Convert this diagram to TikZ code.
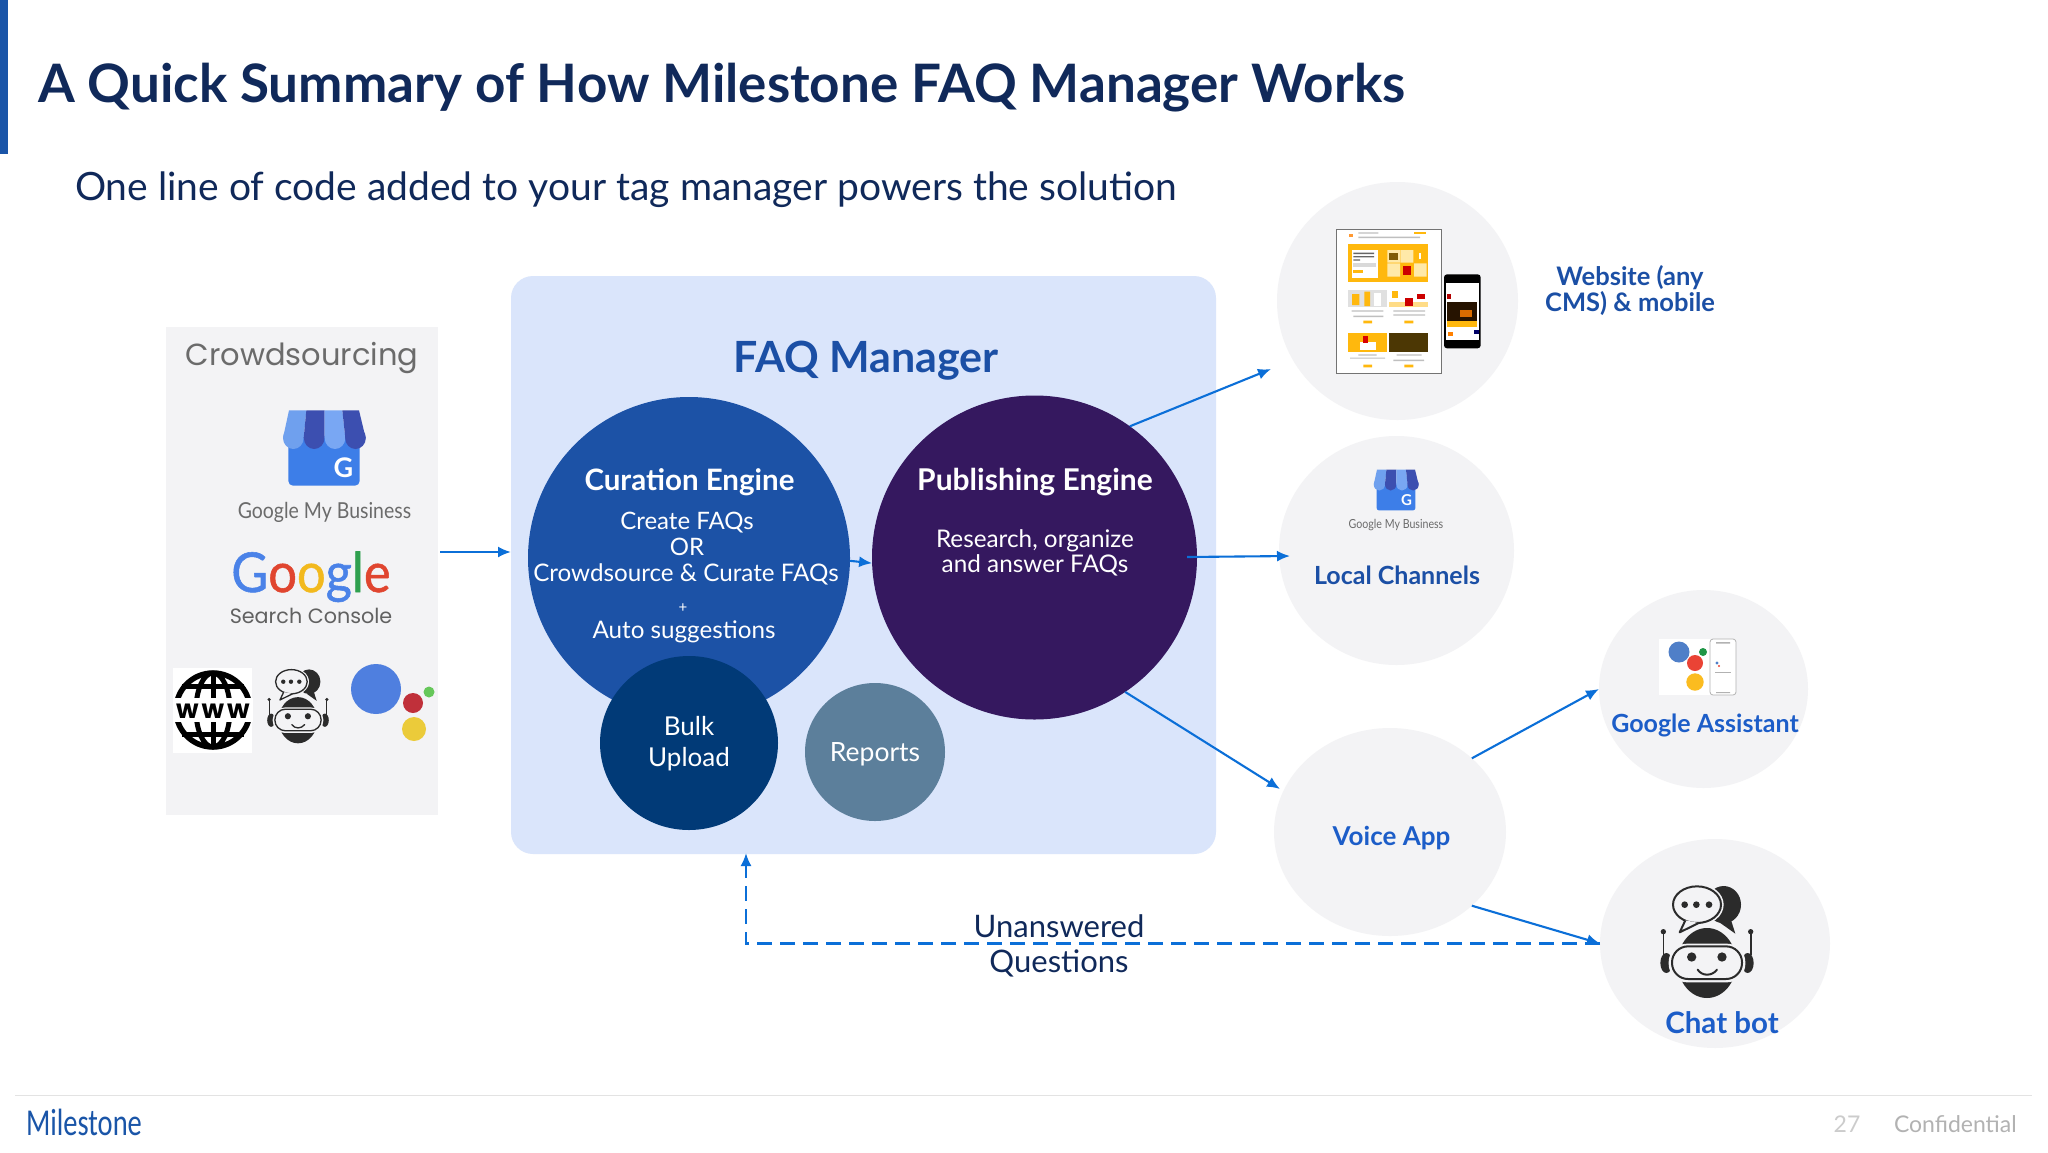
\documentclass[tikz,border=0pt]{standalone}
\usepackage{fontspec}
\usepackage{graphicx}
\setmainfont{Lato}
\newfontfamily\popp{Poppins}
\newfontfamily\carl{Carlito}
\newfontfamily\logofont[FakeBold=1]{Lato}
\usetikzlibrary{arrows.meta,shapes.geometric}
\definecolor{arrowblue}{HTML}{0B6FD8}
\definecolor{navy}{HTML}{10295A}
\definecolor{bar}{HTML}{1A55A8}
\definecolor{dkblue}{HTML}{1B4FA5}
\definecolor{midblue}{HTML}{1C5DC8}
\definecolor{panelgrey}{HTML}{F3F3F5}
\definecolor{faqpanel}{HTML}{DAE5FB}
\definecolor{curation}{HTML}{1C52A6}
\definecolor{publish}{HTML}{35185F}
\definecolor{bulkc}{HTML}{013A77}
\definecolor{reportsc}{HTML}{5C7F9B}
\definecolor{dark}{HTML}{2B2B2B}
\definecolor{yel}{HTML}{FFB80D}
\definecolor{palegy}{HTML}{FFE9A8}
\newcommand\fs[2]{\fontsize{#1}{#2}\selectfont}
\tikzset{
  x=1pt,y=-1pt,
  lbl/.style={anchor=base,inner sep=0pt,outer sep=0pt,align=center},
  bub/.style={shape=ellipse,fill=panelgrey,draw=none,inner sep=0pt,outer sep=0pt},
  eng/.style={shape=ellipse,draw=none,inner sep=0pt,outer sep=0pt},
  arr/.style={draw=arrowblue,line width=2.1pt,-{Latex[length=13pt,width=11pt]}},
  dsh/.style={draw=arrowblue,line width=2.1pt,dash pattern=on 15pt off 8pt,-{Latex[length=13pt,width=11pt]}},
}
% GMB store icon: args x, y, scale, name, G font size
\newcommand\gmbicon[5]{%
  \begin{scope}[shift={(#1,#2)},scale=#3]
  \begin{scope}[shift={(-523,-385)}]
    \fill[color={rgb,255:red,61;green,126;blue,232},rounded corners=#3*14pt] (416,350) rectangle (630,498);
    \fill[color={rgb,255:red,111;green,160;blue,238}] (418,272) -- (470,272) -- (462,355) -- (400,355) -- cycle;
    \fill[color={rgb,255:red,111;green,160;blue,238}] (431,355) ellipse [x radius=31,y radius=33];
    \fill[color={rgb,255:red,60;green,79;blue,176}] (470,272) -- (525,272) -- (525,355) -- (462,355) -- cycle;
    \fill[color={rgb,255:red,60;green,79;blue,176}] (493.5,355) ellipse [x radius=31,y radius=33];
    \fill[color={rgb,255:red,121;green,167;blue,243}] (525,272) -- (578,272) -- (587,355) -- (525,355) -- cycle;
    \fill[color={rgb,255:red,121;green,167;blue,243}] (556,355) ellipse [x radius=31,y radius=33];
    \fill[color={rgb,255:red,60;green,79;blue,176}] (578,272) -- (628,272) -- (648,355) -- (587,355) -- cycle;
    \fill[color={rgb,255:red,60;green,79;blue,176}] (617.5,355) ellipse [x radius=31,y radius=33];
    \node[lbl,text=white] (#4) at (581,472) {\fontsize{#5}{#5}\selectfont\bfseries G};
  \end{scope}
  \end{scope}}
% Robot icon: args x, y, scale, background colour
\newcommand\roboticon[4]{%
  \begin{scope}[shift={(#1,#2)},scale=#3]
  \begin{scope}[shift={(-860,-1090)}]
    \fill[dark] (910,975) ellipse [x radius=52,y radius=56];
    \fill[dark] (930,1015) -- (945,1062) -- (900,1030) -- cycle;
    \fill[#4] (830,975) ellipse [x radius=80,y radius=63];
    \fill[dark] (860,1150) ellipse [x radius=88,y radius=105];
    \filldraw[fill=#4,draw=dark,line width=#3*6pt] (830,975) ellipse [x radius=72,y radius=55];
    \filldraw[fill=#4,draw=dark,line width=#3*6pt,line join=round] (795,1022) -- (778,1058) -- (835,1030);
    \fill[dark] (793,975) circle [radius=10] (828,975) circle [radius=10] (866,975) circle [radius=10];
    \fill[dark] (738,1150) ellipse [x radius=18,y radius=30];
    \fill[dark] (982,1150) ellipse [x radius=18,y radius=30];
    \draw[dark,line width=#3*5pt] (729,1125) -- (729,1058) (991,1125) -- (991,1058);
    \fill[dark] (729,1056) circle [radius=8] (991,1056) circle [radius=8];
    \fill[#4,rounded corners=#3*55pt] (745,1092) rectangle (975,1208);
    \filldraw[fill=#4,draw=dark,line width=#3*6pt,rounded corners=#3*48pt] (755,1100) rectangle (965,1198);
    \fill[dark] (814,1132) circle [radius=14] (905,1132) circle [radius=14];
    \draw[dark,line width=#3*6pt,line cap=round] (832,1170) .. controls (845,1190) and (875,1190) .. (890,1170);
  \end{scope}
  \end{scope}}
\begin{document}
\begin{tikzpicture}
\useasboundingbox (0,0) rectangle (2048,1152);
\fill[white] (0,0) rectangle (2048,1152);
\fill[bar] (0,0) rectangle (8,154);

\node[lbl,text=navy,anchor=base west] (title) at (38,102) {\fs{53}{56}\bfseries A Quick Summary of How Milestone FAQ Manager Works};
\node[lbl,text=navy,anchor=base west] (subtitle) at (75,200.5) {\fs{39}{42}One line of code added to your tag manager powers the solution};

% Crowdsourcing panel
\node[draw=none,fill=panelgrey,inner sep=0pt,outer sep=0pt,minimum width=272pt,minimum height=488pt] (crowdp) at (302,571) {};
\node[lbl,text=black!58] (crowd) at (302,365) {\fs{30.5}{36}\popp Crowdsourcing};
\gmbicon{324}{448}{0.3333}{gmbG}{27}
\node[lbl,text=black!58] (gmbtext) at (324.5,518) {\scalebox{.885}[1]{\fs{22}{24}Google My Business}};
\node[lbl] (googlelogo) at (311,592) {\scalebox{.92}[1]{\fs{55}{58}\logofont\textcolor[HTML]{4A82E8}{G}\textcolor[HTML]{E0452F}{o}\textcolor[HTML]{F2B91E}{o}\textcolor[HTML]{4A82E8}{g}\textcolor[HTML]{2FA04F}{l}\textcolor[HTML]{E0452F}{e}}};
\node[lbl,text=black!62] (searchconsole) at (311,623) {\fs{20.7}{24}\popp Search Console};

% www globe
\fill[white] (173,668) rectangle (252,753);
\begin{scope}[shift={(213,710)}]
  \draw[black,line width=5.5pt] (0,0) circle [radius=37];
  \draw[black,line width=5pt] (0,0) ellipse [x radius=17,y radius=37];
  \draw[black,line width=5pt] (0,-39) -- (0,39);
  \draw[black,line width=5pt] (-31,-24) -- (31,-24) (-31,24) -- (31,24);
  \fill[white] (-40,-12) rectangle (40,12);
\end{scope}
\node[lbl,text=black] (www) at (213,718) {\fs{26}{28}\popp\bfseries w\hspace{3pt}w\hspace{3pt}w};
\roboticon{298}{707}{0.22}{panelgrey}

\fill[color={rgb,255:red,79;green,127;blue,223}] (376,689) circle [radius=25];
\fill[color={rgb,255:red,192;green,48;blue,58}] (413,703) circle [radius=10];
\fill[color={rgb,255:red,235;green,203;blue,58}] (414,729) circle [radius=12];
\fill[color={rgb,255:red,102;green,199;blue,90}] (429,692) circle [radius=5.5];

% FAQ panel
\node[draw=none,fill=faqpanel,rounded corners=22pt,inner sep=0pt,outer sep=0pt,minimum width=705pt,minimum height=578pt] (faq) at (863.5,565) {};
\node[lbl,text=dkblue] (faqtitle) at (866,372) {\fs{43}{46}\bfseries FAQ Manager};

\node[eng,fill=curation,minimum width=322pt,minimum height=322pt] (cur) at (689,558) {};
\node[eng,fill=publish,minimum width=325pt,minimum height=324pt] (pub) at (1034.5,557.5) {};
\node[eng,fill=bulkc,minimum width=178pt,minimum height=174pt] (bulk) at (689,743) {};
\node[eng,fill=reportsc,minimum width=140pt,minimum height=138pt] (rep) at (875,752) {};

\node[lbl,text=white] (curtitle) at (689.5,490) {\fs{29.5}{32}\bfseries Curation Engine};
\node[lbl,text=white] (cur1) at (687,529) {\fs{24}{26}Create FAQs};
\node[lbl,text=white] (cur2) at (687,555) {\fs{24}{26}OR};
\node[lbl,text=white] (cur3) at (686,581) {\fs{24.2}{26}Crowdsource \& Curate FAQs};
\node[lbl,text=white] (cur4) at (683,612) {\fs{15}{16}+};
\node[lbl,text=white] (cur5) at (684,638) {\fs{24.2}{26}Auto suggestions};
\node[lbl,text=white] (pubtitle) at (1035,490) {\fs{30}{32}\bfseries Publishing Engine};
\node[lbl,text=white] (pub1) at (1035,547) {\fs{24.3}{26}Research, organize};
\node[lbl,text=white] (pub2) at (1035,572) {\fs{24.3}{26}and answer FAQs};
\node[lbl,text=white] (bulk1) at (689,735) {\fs{26}{28}Bulk};
\node[lbl,text=white] (bulk2) at (689,766) {\fs{26}{28}Upload};
\node[lbl,text=white] (rep1) at (875,761) {\fs{26.5}{28}Reports};

% Right-hand bubbles
\node[bub,minimum width=241pt,minimum height=238pt] (web) at (1397.5,301) {};
\node[bub,minimum width=235pt,minimum height=229pt] (loc) at (1396.5,550.5) {};
\node[bub,minimum width=209pt,minimum height=198pt] (asst) at (1703.5,689) {};
\node[bub,minimum width=230pt,minimum height=209pt] (chat) at (1715,943.5) {};
\node[bub,minimum width=232pt,minimum height=208pt] (voice) at (1390,832) {};

% Website mock-up
\begin{scope}[shift={(1270,170)},scale=1/3]
  \filldraw[fill=white,draw=black!55,line width=1.5pt] (200,178) rectangle (515,610);
  \fill[black!25] (265,187) rectangle (325,191) (265,200) rectangle (450,204);
  \fill[orange!80] (238,192) rectangle (250,202);
  \fill[yel] (432,186) rectangle (467,192);
  \fill[yel] (234,222) rectangle (475,337);
  \fill[white] (245,240) rectangle (325,325);
  \fill[black!60] (250,248) rectangle (312,252) (250,258) rectangle (312,262) (250,268) rectangle (270,272);
  \fill[black!15] (250,280) rectangle (318,292);
  \fill[yel] (250,300) rectangle (280,310);
  \fill[palegy] (352,240) rectangle (390,278) (392,240) rectangle (430,278) (352,280) rectangle (390,320) (432,280) rectangle (470,320);
  \fill[black!50!yel] (358,248) rectangle (384,270);
  \fill[red!80!black] (398,288) rectangle (424,314);
  \fill[white] (446,248) rectangle (454,268);
  \fill[black!12] (234,360) rectangle (352,410);
  \fill[yel] (246,372) rectangle (268,405) (283,365) rectangle (300,408);
  \fill[white] (312,370) rectangle (332,407);
  \fill[yel!50] (357,395) rectangle (475,412);
  \fill[red!80!black] (405,385) rectangle (430,408);
  \fill[red!80!black] (440,372) rectangle (466,388);
  \fill[yel] (365,362) rectangle (385,385);
  \fill[black!25] (245,421) rectangle (340,425) (250,437) rectangle (340,441) (370,421) rectangle (465,425) (370,433) rectangle (465,437);
  \fill[yel] (280,452) rectangle (306,460) (403,452) rectangle (430,460);
  \fill[yel] (234,490) rectangle (352,546);
  \fill[white] (270,515) rectangle (318,540);
  \fill[red!85!black] (278,498) rectangle (295,520);
  \fill[black!70!yel] (357,490) rectangle (475,546);
  \fill[black!25] (265,553) rectangle (320,557) (240,563) rectangle (345,566) (380,553) rectangle (455,557) (370,569) rectangle (462,573);
  \fill[yel] (280,584) rectangle (306,592) (403,584) rectangle (430,592);
  % phone
  \fill[black,rounded corners=3pt] (522,313) rectangle (632,535);
  \fill[white] (528,338) rectangle (626,510);
  \fill[black!85!orange] (532,395) rectangle (622,452);
  \fill[orange!85!black] (570,420) rectangle (605,440);
  \fill[yel] (532,452) rectangle (622,470);
  \fill[red!70!black] (530,372) rectangle (542,388);
  \fill[orange] (535,485) rectangle (548,497);
  \fill[blue!40!black] (612,480) rectangle (626,492);
\end{scope}
\node[text=dkblue,inner sep=0pt,outer sep=0pt,align=center,font=\fs{25.5}{26}\bfseries] (weblbl) at (1630,290) {Website (any\\CMS) \& mobile};

\gmbicon{1396}{490}{0.181}{gmbGb}{15}
\node[lbl,text=black!58] (gmbsmall) at (1396,528) {\scalebox{.85}[1]{\fs{12.5}{15}Google My Business}};
\node[lbl,text=dkblue] (loclbl) at (1397,584) {\fs{25}{28}\bfseries Local Channels};

\node[lbl,text=midblue] (voicelbl) at (1391.5,845) {\fs{26}{28}\bfseries Voice App};

% Assistant icon
\fill[white] (1659,639) rectangle (1736,695);
\fill[color={rgb,255:red,79;green,127;blue,200}] (1679,652) circle [radius=10.5];
\fill[color={rgb,255:red,234;green,67;blue,53}] (1695,663) circle [radius=8];
\fill[color={rgb,255:red,251;green,188;blue,32}] (1695,682) circle [radius=8.7];
\fill[color={rgb,255:red,30;green,150;blue,70}] (1703,652) circle [radius=4];
\filldraw[fill=white,draw=black!30,line width=.8pt,rounded corners=3pt] (1710,639) rectangle (1736,695);
\fill[black!30] (1716,642) rectangle (1730,643.5) (1716,692) rectangle (1730,693);
\fill[color={rgb,255:red,79;green,127;blue,200}] (1717,663) circle [radius=1.6];
\fill[color={rgb,255:red,234;green,67;blue,53}] (1719,666) circle [radius=1.2];
\fill[black!30] (1715,672) rectangle (1731,673);
\node[lbl,text=midblue] (asstlbl) at (1705,732) {\fs{25}{28}\bfseries Google Assistant};

\roboticon{1707}{943}{0.3333}{panelgrey}
\node[lbl,text=midblue] (chatlbl) at (1722,1033) {\fs{29.5}{32}\bfseries Chat bot};

% Connectors
\coordinate (crowdout) at (440,552);
\coordinate (pubout) at (1187,557);
\coordinate (webin) at (1271,369);
\coordinate (locin) at (1290,556);
\coordinate (voicein) at (1280,789);
\coordinate (dashup) at (746,853);
\draw[arr] (crowdout) -- (faq.west |- crowdout);
\draw[arr] (cur.-1.5) -- (pub.182);
\draw[arr] (pub.54) -- (webin);
\draw[arr] (pubout) -- (locin);
\draw[arr] (pub.-56) -- (voicein);
\draw[arr] (voice.42) -- (asst.west);
\draw[arr] (voice.-42) -- (chat.west);
\draw[dsh] (chat.west) -| (dashup);
\node[text=navy,inner sep=0pt,outer sep=0pt,align=center,font=\fs{31}{35}] (unans) at (1059,946) {Unanswered\\Questions};

% Footer
\fill[black!11] (15,1094.5) rectangle (2032,1096);
\node[lbl,text=bar,anchor=base west] (logo) at (26,1135) {\scalebox{.75}[1]{\fs{38}{40}\carl Milestone}};
\node[lbl,text=black!20] (pageno) at (1847,1132) {\fs{23}{25}27};
\node[lbl,text=black!30,anchor=base west] (conf) at (1894,1132) {\fs{23}{25}Confidential};
\end{tikzpicture}
\end{document}
